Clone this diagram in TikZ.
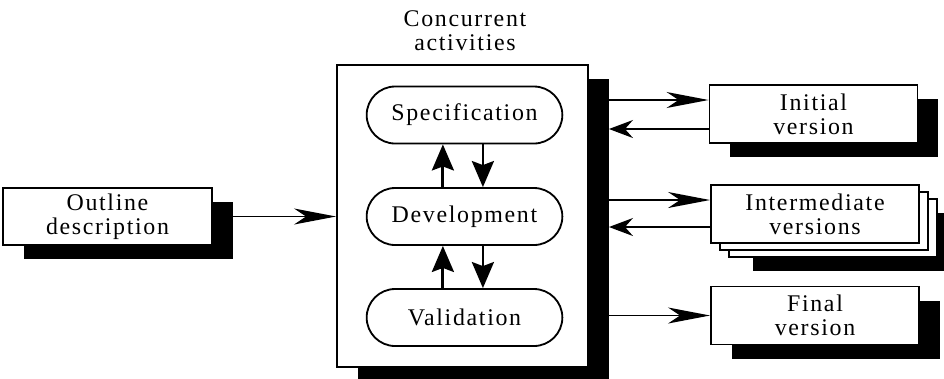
\documentclass[tikz,border=0pt]{standalone}
\usepackage{fontspec}
\setmainfont{Liberation Serif}[LetterSpace=7.0]
\usetikzlibrary{arrows.meta,shapes.misc,shadows}
\tikzset{
  lbl/.style={align=center, font=\fontsize{17}{17}\selectfont},
  blk/.style={lbl, draw, line width=1.3pt, fill=white},
  dropblk/.style={drop shadow={shadow xshift=0.52cm, shadow yshift=-0.36cm, fill=black, opacity=1}},
  stackblk/.style={drop shadow={shadow xshift=1.05cm, shadow yshift=-0.7cm, fill=black, opacity=1},
    copy shadow={shadow xshift=0.45cm, shadow yshift=-0.35cm},
    copy shadow={shadow xshift=0.225cm, shadow yshift=-0.175cm}},
  ver/.style={minimum width=5.2cm, minimum height=1.45cm},
  act/.style={lbl, draw, rounded rectangle, line width=1.3pt, minimum width=5.125cm, minimum height=1.425cm},
  fwd/.style={line width=1pt, -{Stealth[length=1.05cm, width=0.4cm, inset=0.3cm]}},
  bwd/.style={line width=1pt, -{Stealth[length=0.6cm, width=0.45cm, inset=0.2cm]}},
  iter/.style={line width=2pt, -{Stealth[length=0.65cm, width=0.55cm, inset=0.1cm]}}
}
\begin{document}
\begin{tikzpicture}[x=0.025cm, y=-0.025cm]
        \useasboundingbox[fill=white] (0,0) rectangle (944,378);

        \node[blk, dropblk, minimum width=5.225cm, minimum height=1.425cm] (outline) at (107.5,216.5) {Outline\\description};
        \node[blk, dropblk, minimum width=6.275cm, minimum height=7.55cm] (conc) at (462.5,216) {};
        \node[lbl] (title) at (465,31) {Concurrent\\activities};

        \node[act] (spec) at (464.5,115) {Specification};
        \node[act] (dev) at (464.5,216.5) {Development};
        \node[act] (valid) at (464.5,317.5) {Validation};

        \node[blk, dropblk, ver] (init) at (813.5,114) {Initial\\version};
        \node[blk, stackblk, ver] (inter) at (815,214) {Intermediate\\versions};
        \node[blk, dropblk, ver] (final) at (815,315.5) {Final\\version};

        \coordinate (rim) at ([xshift=0.5cm]conc.east);

        \draw[fwd] (outline.east) -- (outline.east -| conc.west);

        \draw[iter] ([xshift=-0.54cm]dev.north) -- ([xshift=-0.54cm]spec.south);
        \draw[iter] ([xshift=0.46cm]spec.south) -- ([xshift=0.46cm]dev.north);
        \draw[iter] ([xshift=-0.54cm]valid.north) -- ([xshift=-0.54cm]dev.south);
        \draw[iter] ([xshift=0.46cm]dev.south) -- ([xshift=0.46cm]valid.north);

        \draw[fwd] ([yshift=0.35cm]init.west -| rim) -- ([yshift=0.35cm]init.west);
        \draw[bwd] ([yshift=-0.375cm]init.west) -- ([yshift=-0.375cm]init.west -| rim);
        \draw[fwd] ([yshift=0.35cm]inter.west -| rim) -- ([yshift=0.35cm]inter.west);
        \draw[bwd] ([yshift=-0.325cm]inter.west) -- ([yshift=-0.325cm]inter.west -| rim);
        \draw[fwd] (final.west -| rim) -- (final.west);
    \end{tikzpicture}
\end{document}
